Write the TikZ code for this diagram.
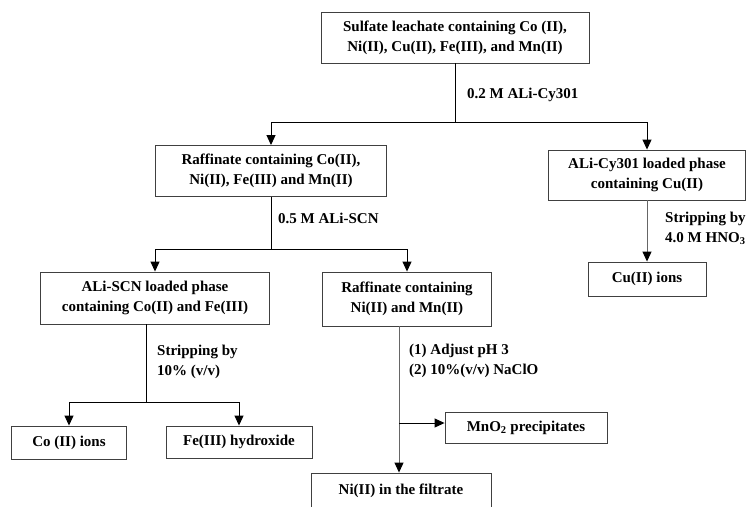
\documentclass[tikz,border=0pt]{standalone}
\usepackage{fontspec}
\setmainfont{Liberation Serif}
\usetikzlibrary{arrows.meta}
\tikzstyle{stage} = [rectangle, draw=black!75, line width=0.9pt, align=center,
inner sep=0pt, font=\bfseries\fontsize{15}{20}\selectfont]
\tikzstyle{note} = [anchor=west, align=left, inner sep=0pt,
font=\bfseries\fontsize{15}{20}\selectfont]
\tikzstyle{line} = [line width=1pt]
\tikzstyle{arrow} = [line width=1pt, -{Triangle[length=10pt,width=9pt,color=black]}]
\tikzstyle{pale} = [draw=black!60]

\begin{document}
\begin{tikzpicture}[x=1pt, y=-1pt]
\useasboundingbox (0,0) rectangle (751,506);

\node(leach)[stage, minimum width=268pt, minimum height=51pt] at (455,37.5)
{Sulfate leachate containing Co (II),\\Ni(II), Cu(II), Fe(III), and Mn(II)};
\node(raff1)[stage, minimum width=231pt, minimum height=51pt] at (271,171)
{Raffinate containing Co(II),\\Ni(II), Fe(III) and Mn(II)};
\node(cuload)[stage, minimum width=197pt, minimum height=50pt] at (647,175)
{ALi-Cy301 loaded phase\\containing Cu(II)};
\node(cuions)[stage, minimum width=118pt, minimum height=34pt] at (647,279)
{Cu(II) ions};
\node(scn)[stage, minimum width=229pt, minimum height=52pt] at (155,298)
{ALi-SCN loaded phase\\containing Co(II) and Fe(III)};
\node(raff2)[stage, minimum width=169pt, minimum height=54pt] at (407,299)
{Raffinate containing\\Ni(II) and Mn(II)};
\node(coions)[stage, minimum width=115pt, minimum height=33pt] at (69,442.5)
{Co (II) ions};
\node(fehyd)[stage, minimum width=146pt, minimum height=32pt] at (239,442)
{Fe(III) hydroxide};
\node(mno2)[stage, minimum width=162pt, minimum height=31pt] at (526,427.5)
{MnO\textsubscript{2} precipitates};
\node(nifil)[stage, minimum width=180pt, minimum height=36pt] at (401,491)
{Ni(II) in the filtrate};

% reagents and steps
\node(cy301)[note] at (467,95) {0.2 M ALi-Cy301};
\node(alscn)[note] at (278,218) {0.5 M ALi-SCN};
\node(strip1)[note] at (665,228) {Stripping by\\4.0 M HNO\textsubscript{3}};
\node(strip2)[note] at (157,362) {Stripping by\\10\% (v/v)};
\node(steps)[note] at (409,361) {(1) Adjust pH 3\\(2) 10\%(v/v) NaClO};

\coordinate(split1) at (455,122);
\coordinate(split2) at (271,249);
\coordinate(split3) at (146,402);
\coordinate(split4) at (399,423);

\draw[line](leach.south) -- (split1);
\draw[arrow](split1) -| (raff1.north);
\draw[arrow](split1) -| (cuload.north);
\draw[arrow, pale](cuload) -- (cuions);
\draw[line](raff1.south) -- (split2);
\draw[arrow](split2) -| (scn.north);
\draw[arrow](split2) -| (raff2.north);
\draw[line](scn.south -| split3) -- (split3);
\draw[arrow](split3) -| (coions.north);
\draw[arrow](split3) -| (fehyd.north);
\draw[line, pale](raff2.south -| split4) -- (split4);
\draw[arrow, pale](split4) -- (split4 |- nifil.north);
\draw[arrow](split4) -- (split4 -| mno2.west);

\end{tikzpicture}
\end{document}
